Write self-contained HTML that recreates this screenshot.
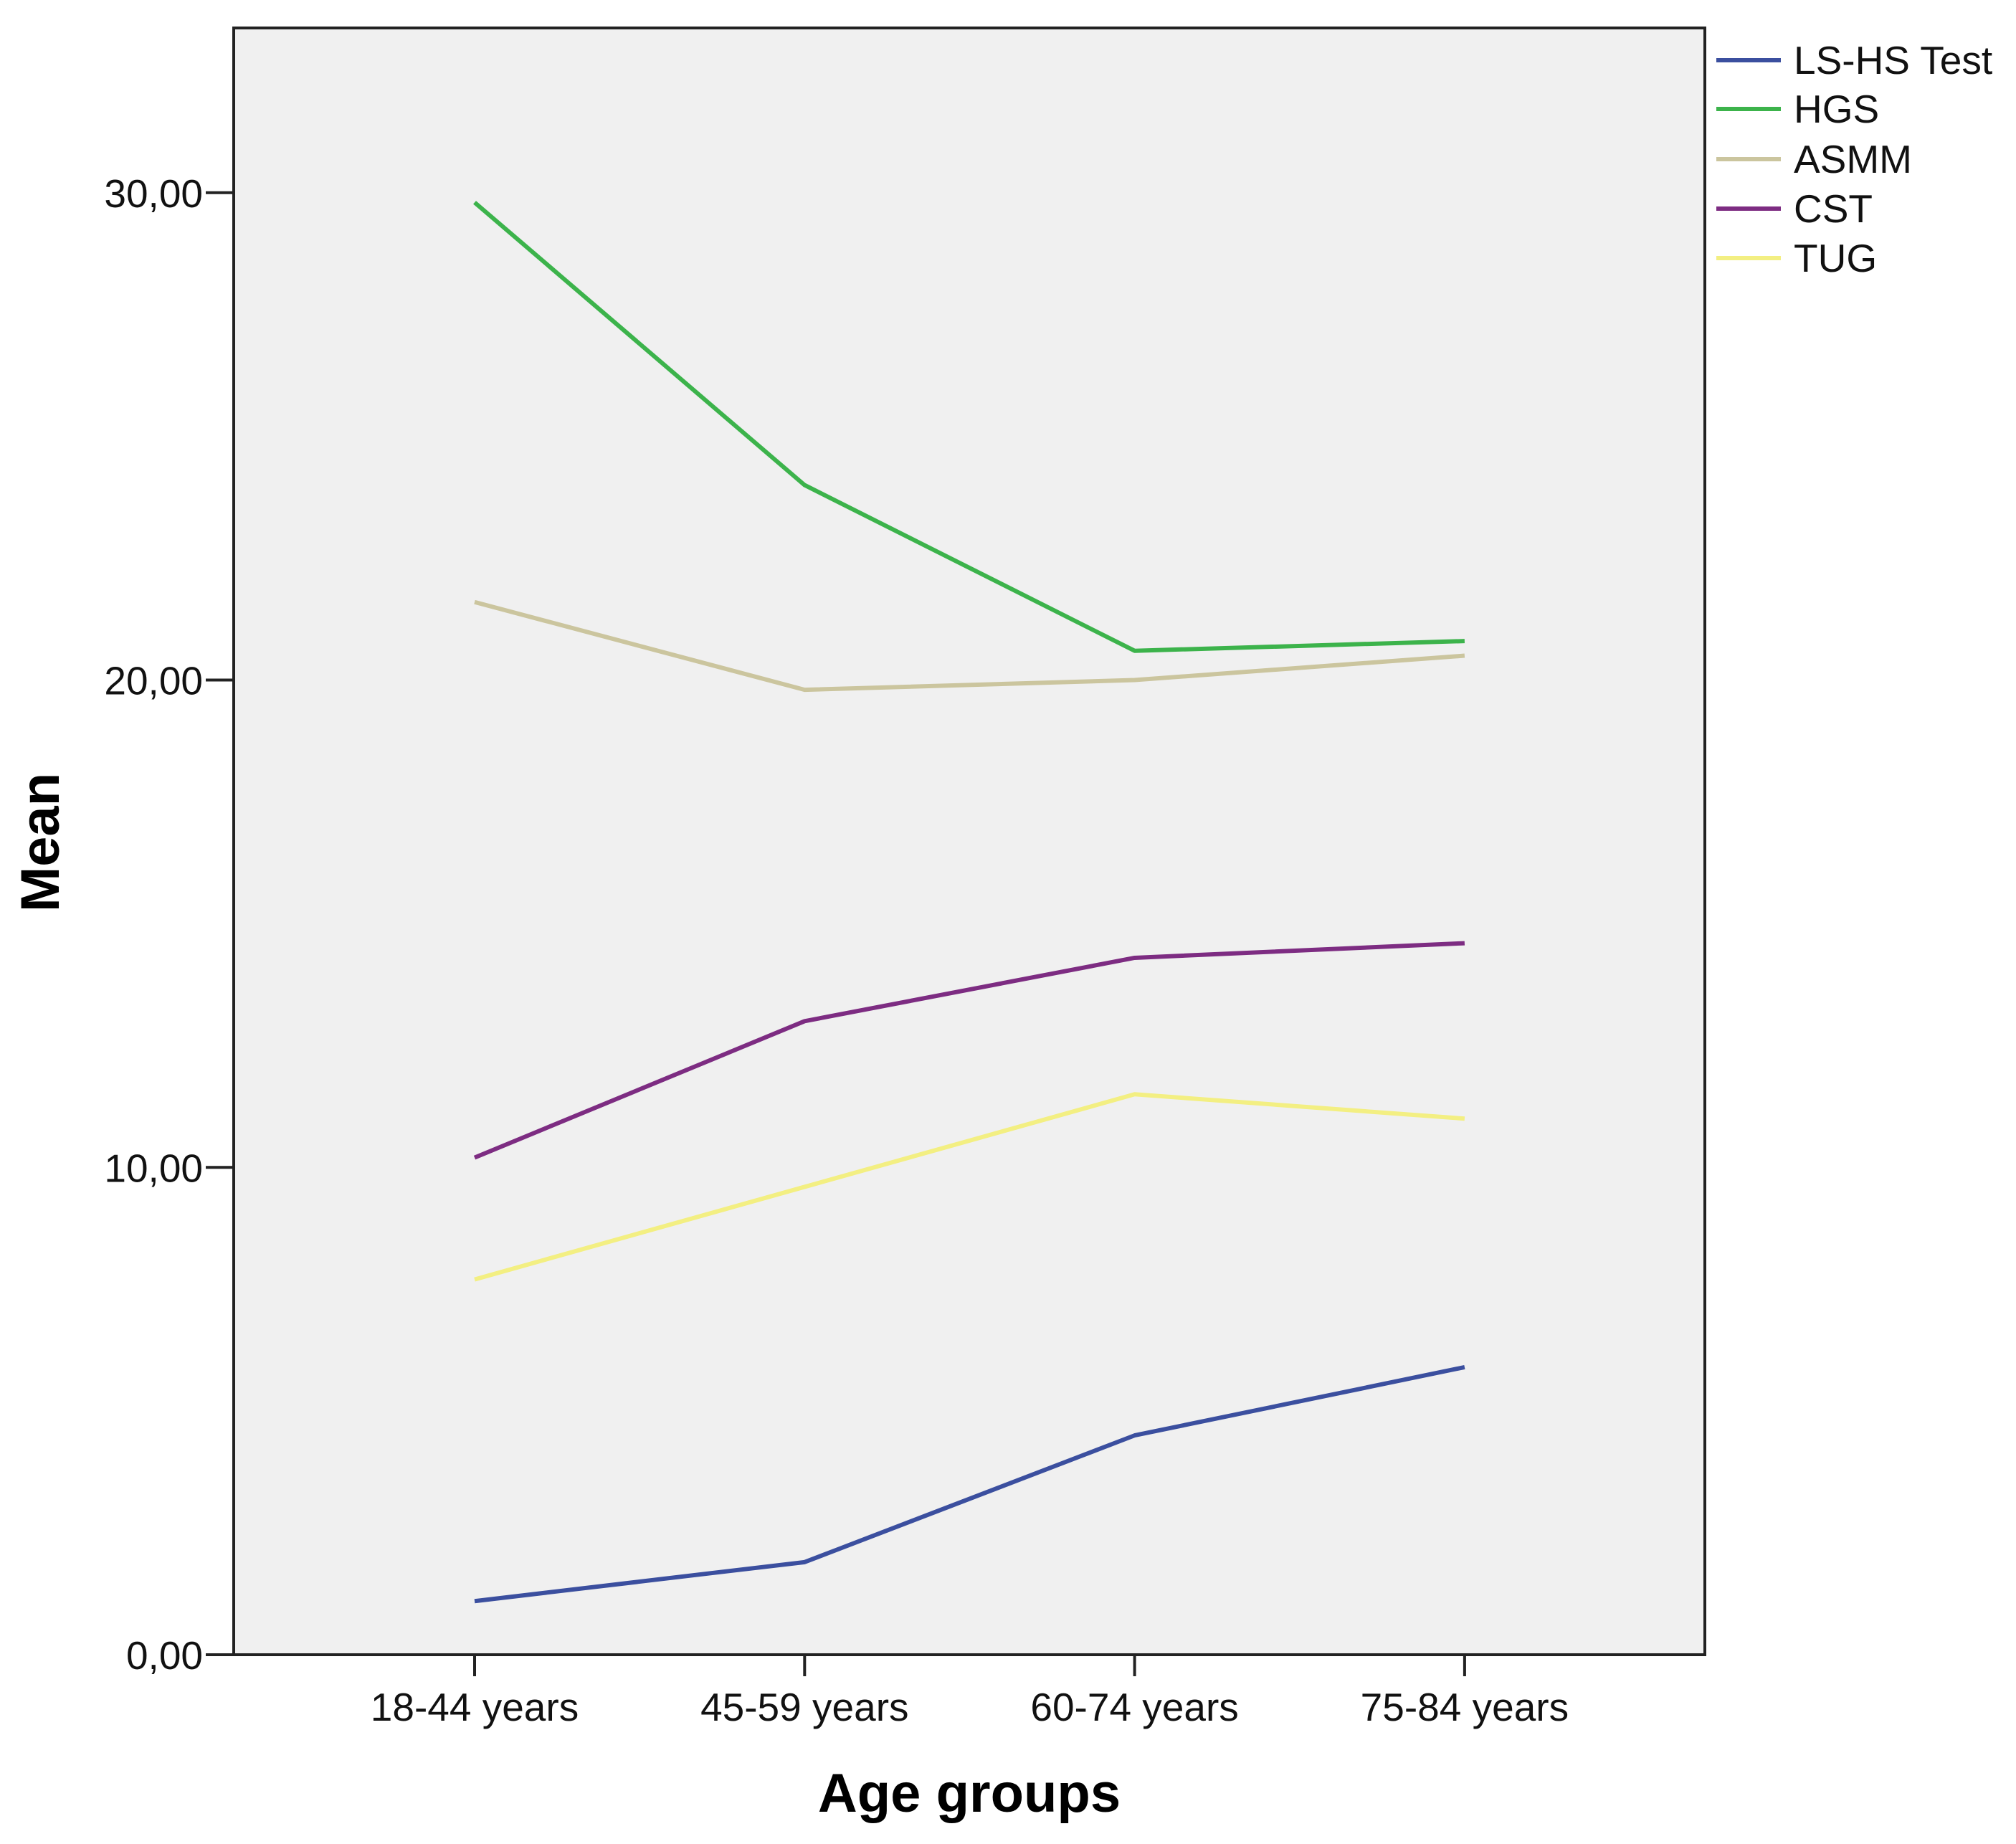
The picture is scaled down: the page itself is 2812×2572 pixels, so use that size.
<!DOCTYPE html>
<html><head><meta charset="utf-8"><style>
html,body{margin:0;padding:0;background:#fff;}
svg{display:block;font-family:"Liberation Sans",Arial,sans-serif;}
</style></head><body>
<svg id="chart" width="2812" height="2572" viewBox="0 0 2812 2572" xmlns="http://www.w3.org/2000/svg">
<rect x="326" y="39" width="2052" height="2269" fill="#f0f0f0" stroke="#222" stroke-width="4"/>
<g id="axes"></g>
<g id="series"></g>
<g id="legend"></g>
<text transform="translate(82,1175) rotate(-90)" text-anchor="middle" font-size="76" font-weight="bold" fill="#000">Mean</text>
<text x="1352" y="2527" text-anchor="middle" font-size="76" font-weight="bold" fill="#000">Age groups</text>
</svg>
<script>
const categories = ["18-44 years","45-59 years","60-74 years","75-84 years"];
const seriesNames = ["LS-HS Test","HGS","ASMM","CST","TUG"];
const lshs = [1.1, 1.9, 4.5, 5.9];
const hgs = [29.8, 24.0, 20.6, 20.8];
const asmm = [21.6, 19.8, 20.0, 20.5];
const cst = [10.2, 13.0, 14.3, 14.6];
const tug = [7.7, 9.6, 11.5, 11.0];
const yTicks = [0, 10, 20, 30];
const yTickLabels = ["0,00","10,00","20,00","30,00"];
const colors = ["#3b4f9f","#3cb34b","#cbc59e","#7d2c82","#f3ef82"];
const allSeries = [lshs, hgs, asmm, cst, tug];

const NS = "http://www.w3.org/2000/svg";
const plotL = 326, plotR = 2378, plotT = 39, plotB = 2308;
const yMax = 33.38;
function yScale(v){ return plotB - v/yMax*(plotB-plotT); }
const xPos0 = 662, xStep = 460.3;
function xScale(i){ return xPos0 + i*xStep; }
function mk(tag, attrs, parent){ const e=document.createElementNS(NS,tag); for(const k in attrs) e.setAttribute(k,attrs[k]); parent.appendChild(e); return e; }

const axes = document.getElementById('axes');
yTicks.forEach((t,i)=>{
  const y = yScale(t);
  const tk = mk('line',{x1:287,x2:326,y1:y,y2:y,stroke:'#222','stroke-width':4},axes);
  
  
  const tx = mk('text',{x:283,y:y+20,'text-anchor':'end','font-size':55,fill:'#111'},axes);
  tx.textContent = yTickLabels[i];
  
  
});
categories.forEach((c,i)=>{
  const x = xScale(i);
  const tk = mk('line',{x1:x,x2:x,y1:plotB,y2:plotB+30,stroke:'#222','stroke-width':4},axes);
  
  
  const tx = mk('text',{x:x,y:2400,'text-anchor':'middle','font-size':55,fill:'#111'},axes);
  tx.textContent = c;
  
  
});

const sg = document.getElementById('series');
allSeries.forEach((vals,s)=>{
  const pts = vals.map((v,i)=>xScale(i)+','+yScale(v)).join(' ');
  const pl = mk('polyline',{points:pts,fill:'none',stroke:colors[s],'stroke-width':6,'stroke-linejoin':'round'},sg);
  
  
});

const lg = document.getElementById('legend');
const legY = [84,152,222,291,360];
seriesNames.forEach((n,s)=>{
  const g = mk('g',{},lg);
  
  
  mk('line',{x1:2394,x2:2484,y1:legY[s],y2:legY[s],stroke:colors[s],'stroke-width':6},g);
  const t = mk('text',{x:2502,y:legY[s]+19,'font-size':55,fill:'#111'},g);
  t.textContent = n;
});
</script>
</body></html>
